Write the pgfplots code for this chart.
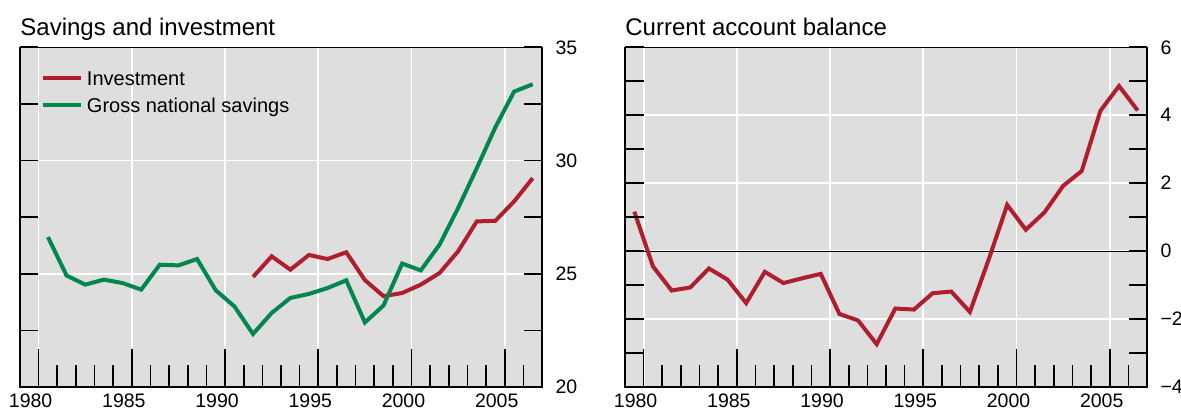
\documentclass[border=0pt]{standalone}
\usepackage{pgfplots}
\pgfplotsset{compat=1.18}
\usepackage{fontspec}
\setmainfont{Liberation Sans}
\definecolor{bggray}{RGB}{222,222,222}
\definecolor{invred}{RGB}{175,30,45}
\definecolor{savgreen}{RGB}{0,135,80}

\pgfplotsset{
  panelbase/.style={scale only axis, width=261pt, height=169.85pt,
    xmin=1979, xmax=2007, anchor=south west},
  panelA/.style={panelbase,
    axis background/.style={fill=bggray},
    axis line style={black, line width=0.7pt},
    xtick={1980,1985,1990,1995,2000,2005},
    xticklabels={1980,1985,1990,1995,2000,2005},
    minor xtick={1981,1982,1983,1984,1986,1987,1988,1989,1991,1992,1993,1994,1996,1997,1998,1999,2001,2002,2003,2004,2006},
    xtick pos=left, tick align=inside,
    major tick length=19pt, minor tick length=11pt,
    tick style={black, line width=0.8pt},
    xmajorgrids, ymajorgrids, grid style={white, line width=0.85pt},
    ytick style={draw=none}, yticklabels={},
    xticklabel style={font=\fontsize{9.75}{11}\selectfont, xshift=-4pt},
  },
  panelB/.style={panelbase,
    xtick=\empty, axis line style={draw=none},
    ytick pos=both, yticklabel pos=right, tick align=inside,
    major tick length=9.25pt, minor tick length=9.25pt,
    tick style={black, line width=0.8pt},
    yticklabel style={font=\fontsize{9.75}{11}\selectfont, xshift=3.25pt},
  },
}

\begin{document}
\begin{tikzpicture}
% ---------------- Left panel ----------------
\begin{axis}[panelA, name=left, at={(0pt,0pt)},
  ymin=20, ymax=35, ytick={20,25,30,35},
  legend style={at={(0,1)}, anchor=north west, xshift=10.5pt, yshift=-12pt,
    draw=none, fill=none, font=\fontsize{10}{12}\selectfont,
    inner sep=0pt, row sep=4.9pt, column sep=1.8pt,
    nodes={inner sep=0pt}},
  legend cell align=left,
  legend image code/.code={\draw[#1] (0pt,0.85pt) -- (19pt,0.85pt);},
]
\addplot[invred, line width=2pt] coordinates {
(1991.5,24.86) (1992.5,25.77) (1993.5,25.18) (1994.5,25.83) (1995.5,25.65)
(1996.5,25.95) (1997.5,24.72) (1998.5,24.01) (1999.5,24.15) (2000.5,24.52)
(2001.5,25.03) (2002.5,25.99) (2003.5,27.31) (2004.5,27.34) (2005.5,28.19)
(2006.5,29.22)};
\addlegendentry{Investment}
\addplot[savgreen, line width=2pt] coordinates {
(1980.5,26.62) (1981.5,24.92) (1982.5,24.52) (1983.5,24.74) (1984.5,24.59)
(1985.5,24.30) (1986.5,25.40) (1987.5,25.37) (1988.5,25.65) (1989.5,24.27)
(1990.5,23.56) (1991.5,22.34) (1992.5,23.27) (1993.5,23.93) (1994.5,24.11)
(1995.5,24.37) (1996.5,24.71) (1997.5,22.85) (1998.5,23.60) (1999.5,25.45)
(2000.5,25.15) (2001.5,26.28) (2002.5,27.90) (2003.5,29.66) (2004.5,31.47)
(2005.5,33.04) (2006.5,33.37)};
\addlegendentry{Gross national savings}
\end{axis}
\begin{axis}[panelB, at={(0pt,0pt)},
  ymin=20, ymax=35, ytick={20,25,30,35}, yticklabels={20,25,30,35},
  minor ytick={22.5,27.5,32.5}]
\end{axis}
\node[anchor=base west, inner sep=0pt, font=\fontsize{12}{14}\selectfont]
  at ([yshift=5.75pt]left.north west) {Savings and investment};

% ---------------- Right panel ----------------
\begin{axis}[panelA, name=right, at={(302.5pt,0pt)},
  ymin=-4, ymax=6, ytick={-4,-2,0,2,4,6}]
\addplot[black, line width=0.6pt, forget plot] coordinates {(1979,0) (2007,0)};
\addplot[invred, line width=2pt] coordinates {
(1979.5,1.16) (1980.5,-0.45) (1981.5,-1.16) (1982.5,-1.07) (1983.5,-0.51)
(1984.5,-0.84) (1985.5,-1.53) (1986.5,-0.61) (1987.5,-0.94) (1988.5,-0.80)
(1989.5,-0.67) (1990.5,-1.85) (1991.5,-2.04) (1992.5,-2.74) (1993.5,-1.69)
(1994.5,-1.72) (1995.5,-1.24) (1996.5,-1.19) (1997.5,-1.79) (1998.5,-0.26)
(1999.5,1.36) (2000.5,0.63) (2001.5,1.14) (2002.5,1.92) (2003.5,2.36)
(2004.5,4.13) (2005.5,4.86) (2006.5,4.14)};
\end{axis}
\begin{axis}[panelB, at={(302.5pt,0pt)},
  ymin=-4, ymax=6, ytick={-4,-2,0,2,4,6}, yticklabels={−4,−2,0,2,4,6},
  minor ytick={-3,-1,1,3,5}]
\end{axis}
\node[anchor=base west, inner sep=0pt, font=\fontsize{12}{14}\selectfont]
  at ([yshift=5.75pt]right.north west) {Current account balance};

\pgfresetboundingbox
\path[use as bounding box] (-10pt,-11.5pt) rectangle (580.5pt,193.5pt);
\end{tikzpicture}
\end{document}
